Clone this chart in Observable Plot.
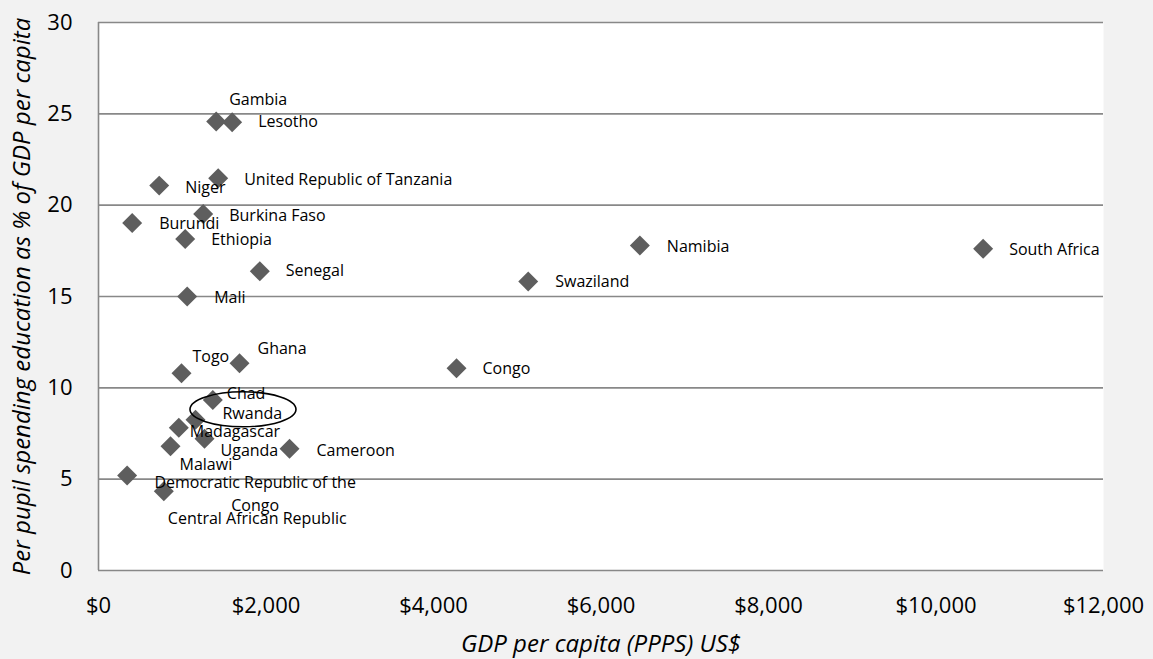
<!DOCTYPE html>
<html><head><meta charset="utf-8">
<script src="https://cdn.jsdelivr.net/npm/d3@7"></script>
<script src="https://cdn.jsdelivr.net/npm/@observablehq/plot@0.6"></script>
<style>
html,body{margin:0;padding:0;background:#f2f2f2;}
#chart{width:1153px;height:659px;}
</style></head><body><div id="chart"></div>
<script>
const countries = ["Gambia","Lesotho","United Republic of Tanzania","Niger","Burkina Faso","Burundi","Ethiopia","Senegal","Mali","Togo","Ghana","Chad","Rwanda","Madagascar","Uganda","Malawi","Cameroon","Democratic Republic of the Congo","Central African Republic","Congo","Swaziland","Namibia","South Africa"];
const gdpPerCapita = [1405,1596,1429,725,1250,402,1035,1926,1059,991,1684,1365,1158,959,1266,860,2281,342,780,4275,5131,6464,10563];
const spendingPct = [24.58,24.54,21.47,21.07,19.52,19.03,18.15,16.38,15.0,10.80,11.35,9.34,8.25,7.81,7.21,6.80,6.66,5.20,4.34,11.07,15.82,17.79,17.61];
const xTicks = [0,2000,4000,6000,8000,10000,12000];
const yTicks = [0,5,10,15,20,25,30];
const xTitle = "GDP per capita (PPPS) US$";
const yTitle = "Per pupil spending education as % of GDP per capita";
const highlighted = "Rwanda";

const data = countries.map((name, i) => ({name, gdp: gdpPerCapita[i], pct: spendingPct[i]}));

// label placement (pixel offsets from each marker), presentation only
const labelOffsets = {
  "Gambia":[13,-22], "Lesotho":[26,0], "United Republic of Tanzania":[26,2], "Niger":[26,2],
  "Burkina Faso":[26,2], "Burundi":[27,1], "Ethiopia":[26,1], "Senegal":[26,0], "Mali":[27,1],
  "Togo":[11,-16], "Ghana":[18,-14], "Chad":[14,-6], "Rwanda":[27,-6], "Madagascar":[11,4],
  "Uganda":[16,12], "Malawi":[9,19], "Cameroon":[27,2], "Central African Republic":[4,28],
  "Congo":[26,1], "Swaziland":[27,0], "Namibia":[27,1], "South Africa":[26,1]
};
const centeredLabels = {"Democratic Republic of the Congo":[128,17]};

const fmtUsd = d => "$" + d3.format(",")(d);
const labelFont = 16;

const labelMarks = data.map(d => {
  if (centeredLabels[d.name]) {
    const [dx, dy] = centeredLabels[d.name];
    return Plot.text([d], {x:"gdp", y:"pct", text: r => r.name.replace(" of the Congo", " of the\nCongo"),
      dx, dy, textAnchor:"middle", lineAnchor:"middle", lineHeight:1.42, fontSize:labelFont, fill:"#000"});
  }
  const [dx, dy] = labelOffsets[d.name];
  return Plot.text([d], {x:"gdp", y:"pct", text:"name", dx, dy, textAnchor:"start", lineAnchor:"middle", fontSize:labelFont, fill:"#000"});
});

const plot = Plot.plot({
  width:1153, height:659,
  marginLeft:98, marginRight:50, marginTop:22, marginBottom:89,
  style:{background:"#f2f2f2", fontFamily:"'Open Sans', sans-serif", color:"#000", overflow:"visible"},
  x:{domain:[0,12000]},
  y:{domain:[0,30]},
  marks:[
    Plot.frame({fill:"white", stroke:"none"}),
    Plot.ruleY(yTicks, {stroke:"#888888", strokeWidth:1.6}),
    Plot.ruleX([0], {stroke:"#888888", strokeWidth:1.6}),
    Plot.axisX(xTicks, {tickSize:0, tickPadding:27, tickFormat:fmtUsd, fontSize:22, label:null}),
    Plot.axisY(yTicks, {tickSize:0, tickPadding:26, fontSize:22, label:null}),
    Plot.dot(data, {x:"gdp", y:"pct", symbol:"diamond2", r:9, fill:"#5e5e5e", stroke:"none"}),
    ...labelMarks,
    Plot.text([xTitle], {frameAnchor:"bottom", dy:74, text:d=>d, fontSize:24, fontStyle:"italic", lineAnchor:"middle"}),
    Plot.text([yTitle], {frameAnchor:"left", dx:-76, text:d=>d, fontSize:24, fontStyle:"italic", rotate:-90, textAnchor:"middle", lineAnchor:"middle"})
  ]
});

document.getElementById("chart").appendChild(plot);

// ellipse highlighting Rwanda
const sx = plot.scale("x"), sy = plot.scale("y");
const rw = data.find(d => d.name === highlighted);
d3.select(plot).append("ellipse")
  .attr("cx", sx.apply(rw.gdp) + 48)
  .attr("cy", sy.apply(rw.pct) - 10)
  .attr("rx", 53).attr("ry", 17.5)
  .attr("fill", "none").attr("stroke", "#000").attr("stroke-width", 1.6);
</script>
</body></html>
